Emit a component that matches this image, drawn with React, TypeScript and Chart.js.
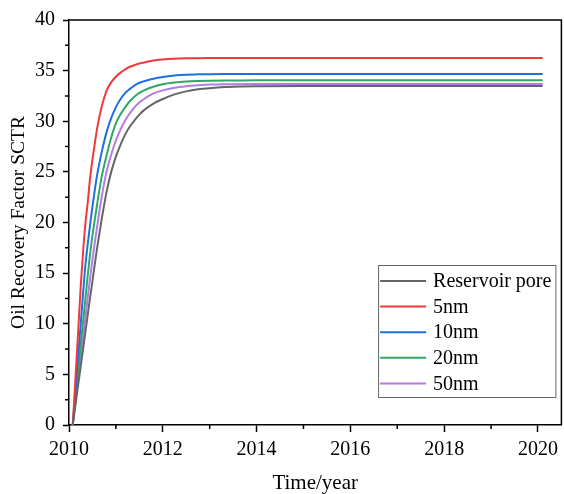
import React, { useEffect, useRef } from 'react';
import { Chart, registerables } from 'chart.js';

Chart.register(...registerables);

const years = [2010.08, 2010.15, 2010.2, 2010.25, 2010.3, 2010.35, 2010.4, 2010.45, 2010.5, 2010.55, 2010.6, 2010.7, 2010.8, 2010.9, 2011.0, 2011.1, 2011.2, 2011.3, 2011.4, 2011.5, 2011.6, 2011.8, 2012.0, 2012.25, 2012.5, 2012.75, 2013.0, 2013.5, 2014, 2015, 2016, 2017, 2018, 2019, 2020.1];

const reservoirPore = [0, 2.4, 4.1, 5.8, 7.5, 9.2, 10.9, 12.6, 14.2, 15.9, 17.5, 20.4, 23.0, 25.0, 26.5, 27.7, 28.7, 29.5, 30.1, 30.65, 31.1, 31.75, 32.2, 32.65, 32.95, 33.15, 33.27, 33.4, 33.45, 33.48, 33.48, 33.48, 33.48, 33.48, 33.48];
const pore5nm = [0, 5.6, 9.6, 13.7, 17.1, 19.9, 22.0, 24.4, 26.2, 27.8, 29.3, 31.5, 33.0, 33.85, 34.4, 34.8, 35.12, 35.38, 35.55, 35.7, 35.8, 36.0, 36.1, 36.17, 36.21, 36.23, 36.24, 36.25, 36.25, 36.25, 36.25, 36.25, 36.25, 36.25, 36.25];
const pore10nm = [0, 4.1, 7.1, 10.0, 13.0, 15.8, 17.9, 19.8, 21.6, 23.2, 24.7, 27.0, 28.9, 30.3, 31.4, 32.2, 32.8, 33.2, 33.55, 33.8, 33.95, 34.2, 34.38, 34.52, 34.6, 34.63, 34.65, 34.66, 34.67, 34.67, 34.67, 34.67, 34.67, 34.67, 34.67];
const pore20nm = [0, 3.2, 5.6, 7.9, 10.2, 12.5, 14.8, 16.9, 18.7, 20.3, 21.8, 24.6, 26.6, 28.4, 29.8, 30.7, 31.4, 32.0, 32.45, 32.8, 33.05, 33.4, 33.65, 33.82, 33.92, 33.97, 34.0, 34.02, 34.04, 34.04, 34.04, 34.04, 34.04, 34.04, 34.04];
const pore50nm = [0, 2.75, 4.7, 6.7, 8.6, 10.6, 12.6, 14.5, 16.3, 18.0, 19.6, 22.6, 25.0, 26.7, 28.1, 29.2, 30.1, 30.8, 31.4, 31.85, 32.2, 32.75, 33.05, 33.3, 33.45, 33.55, 33.62, 33.66, 33.68, 33.68, 33.68, 33.68, 33.68, 33.68, 33.68];

const seriesLabels = ['Reservoir pore', '5nm', '10nm', '20nm', '50nm'];
const seriesColors = ['#666666', '#F0393B', '#1F6FE0', '#30A865', '#B27BE6'];

const xMajorTicks = [2010, 2012, 2014, 2016, 2018, 2020];
const xMinorTicks = [2011, 2013, 2015, 2017, 2019];
const yMajorTicks = [0, 5, 10, 15, 20, 25, 30, 35, 40];
const yMinorTicks = [2.5, 7.5, 12.5, 17.5, 22.5, 27.5, 32.5, 37.5];

const FONT = "'Liberation Serif', 'Times New Roman', serif";

const decorPlugin = {
  id: 'decor',
  afterDraw(chart: any) {
    const { ctx, chartArea: a, scales } = chart;
    const x = scales.x;
    const y = scales.y;
    ctx.save();
    ctx.strokeStyle = '#000';
    ctx.lineWidth = 1.5;
    ctx.beginPath();
    ctx.moveTo(a.left, a.top);
    ctx.lineTo(a.right, a.top);
    ctx.lineTo(a.right, a.bottom);
    ctx.stroke();
    ctx.beginPath();
    xMinorTicks.forEach((v) => {
      const px = x.getPixelForValue(v);
      ctx.moveTo(px, a.bottom);
      ctx.lineTo(px, a.bottom + 4);
    });
    yMinorTicks.forEach((v) => {
      const py = y.getPixelForValue(v);
      ctx.moveTo(a.left, py);
      ctx.lineTo(a.left - 4, py);
    });
    ctx.stroke();

    // legend
    ctx.font = `20px ${FONT}`;
    const datasets = chart.data.datasets;
    let maxW = 0;
    datasets.forEach((d: any) => {
      maxW = Math.max(maxW, ctx.measureText(d.label).width);
    });
    const lineLen = 46;
    const rowH = 25.6;
    const boxW = 2 + lineLen + 7 + maxW + 4;
    const boxH = rowH * datasets.length + 4;
    const boxRight = a.right - 6;
    const boxBottom = a.bottom - 28;
    const boxLeft = boxRight - boxW;
    const boxTop = boxBottom - boxH;
    ctx.fillStyle = '#fff';
    ctx.fillRect(boxLeft, boxTop, boxW, boxH);
    ctx.strokeStyle = '#666';
    ctx.lineWidth = 1;
    ctx.strokeRect(boxLeft + 0.5, boxTop + 0.5, boxW, boxH);
    datasets.forEach((d: any, i: number) => {
      const cy = boxTop + 16 + i * rowH;
      ctx.strokeStyle = d.borderColor;
      ctx.lineWidth = 2;
      ctx.beginPath();
      ctx.moveTo(boxLeft + 2, cy);
      ctx.lineTo(boxLeft + 2 + lineLen, cy);
      ctx.stroke();
      ctx.fillStyle = '#000';
      ctx.textBaseline = 'middle';
      ctx.textAlign = 'left';
      ctx.fillText(d.label, boxLeft + 2 + lineLen + 7, cy + 1);
    });
    ctx.restore();
  },
};

export default function App() {
  const canvasRef = useRef<HTMLCanvasElement | null>(null);

  useEffect(() => {
    document.body.style.margin = '0';
    const canvas = canvasRef.current;
    if (!canvas) return;
    const allSeries = [reservoirPore, pore5nm, pore10nm, pore20nm, pore50nm];
    const chart = new Chart(canvas, {
      type: 'line',
      data: {
        datasets: allSeries.map((s, i) => ({
          label: seriesLabels[i],
          data: years.map((t, k) => ({ x: t, y: s[k] })),
          borderColor: seriesColors[i],
          backgroundColor: seriesColors[i],
          borderWidth: 2,
          pointRadius: 0,
          fill: false,
          cubicInterpolationMode: 'monotone' as const,
        })),
      },
      options: {
        animation: false,
        responsive: false,
        devicePixelRatio: 1,
        layout: { padding: { top: 20, right: 1, left: 0, bottom: 0 } },
        plugins: {
          legend: { display: false },
          tooltip: { enabled: false },
        },
        scales: {
          x: {
            type: 'linear',
            min: 2010,
            max: 2020.5,
            afterBuildTicks: (scale: any) => {
              scale.ticks = xMajorTicks.map((v) => ({ value: v }));
            },
            afterFit: (scale: any) => {
              scale.height = 69;
            },
            grid: {
              drawOnChartArea: false,
              drawTicks: true,
              tickLength: 7,
              tickColor: '#000',
              tickWidth: 1.5,
            },
            border: { color: '#000', width: 1.5 },
            ticks: {
              font: { family: FONT, size: 20 },
              color: '#000',
              padding: 6,
              maxRotation: 0,
              autoSkip: false,
              callback: (v: any) => String(v),
            },
            title: {
              display: true,
              text: 'Time/year',
              font: { family: FONT, size: 21, lineHeight: 1 },
              color: '#000',
              padding: { top: 0, bottom: 0 },
            },
          },
          y: {
            type: 'linear',
            min: 0,
            max: 40,
            afterBuildTicks: (scale: any) => {
              scale.ticks = yMajorTicks.map((v) => ({ value: v }));
            },
            afterFit: (scale: any) => {
              scale.width = 69;
            },
            grid: {
              drawOnChartArea: false,
              drawTicks: true,
              tickLength: 6,
              tickColor: '#000',
              tickWidth: 1.5,
            },
            border: { color: '#000', width: 1.5 },
            ticks: {
              font: { family: FONT, size: 20 },
              color: '#000',
              padding: 8,
              autoSkip: false,
              callback: (v: any) => String(v),
            },
            title: {
              display: true,
              text: 'Oil Recovery Factor SCTR',
              font: { family: FONT, size: 19.5, lineHeight: 1 },
              color: '#000',
              padding: { top: 9, bottom: 0 },
            },
          },
        },
      },
      plugins: [decorPlugin],
    });
    return () => chart.destroy();
  }, []);

  return (
    <div style={{ width: 564, height: 494 }}>
      <canvas ref={canvasRef} width={564} height={494} style={{ display: 'block' }} />
    </div>
  );
}
